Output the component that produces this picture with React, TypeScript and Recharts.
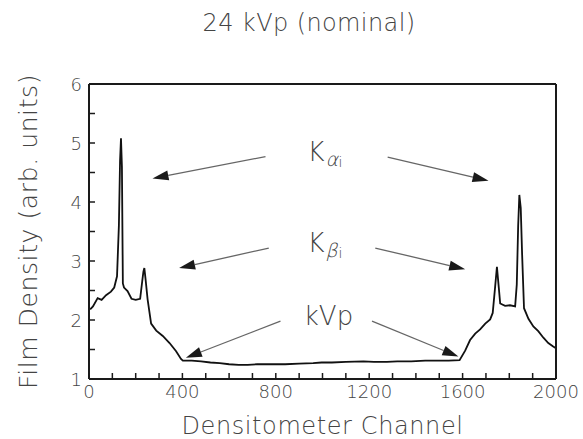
import { LineChart, Line, XAxis, YAxis, ReferenceLine, ReferenceDot } from 'recharts'

// densitometer trace
const channel = [
  5, 17, 37, 54, 73, 94, 108, 120, 128, 133, 137, 141, 145, 150, 165, 182, 200, 219, 228, 233,
  237, 242, 251, 266, 288, 316, 345, 373, 394, 402, 440, 480, 520, 560, 600, 641, 680, 720, 782,
  840, 900, 960, 996, 1040, 1100, 1175, 1220, 1276, 1320, 1380, 1440, 1500, 1540, 1587, 1611,
  1632, 1654, 1675, 1697, 1718, 1729, 1739, 1747, 1755, 1761, 1782, 1803, 1825, 1832, 1838, 1843,
  1849, 1855, 1863, 1882, 1903, 1924, 1946, 1967, 1988, 2000,
]
const density = [
  2.18, 2.23, 2.37, 2.34, 2.42, 2.48, 2.55, 2.74, 3.6, 4.7, 5.08, 4.6, 2.62, 2.55, 2.49, 2.36, 2.34,
  2.36, 2.66, 2.82, 2.88, 2.7, 2.35, 1.94, 1.82, 1.73, 1.61, 1.47, 1.34, 1.31, 1.31, 1.3, 1.28,
  1.27, 1.25, 1.24, 1.24, 1.25, 1.25, 1.25, 1.26, 1.27, 1.28, 1.28, 1.29, 1.3, 1.29, 1.29, 1.3,
  1.3, 1.31, 1.31, 1.31, 1.32, 1.48, 1.66, 1.77, 1.84, 1.94, 2.01, 2.12, 2.55, 2.9, 2.55, 2.28,
  2.24, 2.25, 2.23, 2.6, 3.6, 4.12, 3.9, 3.1, 2.2, 2.02, 1.89, 1.81, 1.7, 1.61, 1.55, 1.52,
]

const xTicks = [0, 100, 200, 300, 400, 500, 600, 700, 800, 900, 1000, 1100, 1200, 1300, 1400, 1500, 1600, 1700, 1800, 1900, 2000]
const yTicks = [1, 1.5, 2, 2.5, 3, 3.5, 4, 4.5, 5, 5.5, 6]

// annotation arrows (from text towards feature), in data units
const arrows = [
  { from: [756, 4.77], to: [272, 4.4] },
  { from: [1279, 4.76], to: [1711, 4.36] },
  { from: [770, 3.22], to: [386, 2.88] },
  { from: [1226, 3.22], to: [1611, 2.86] },
  { from: [820, 1.98], to: [415, 1.36] },
  { from: [1212, 1.98], to: [1582, 1.38] },
]
const notes = [
  { x: 936, y: 4.69, main: 'K', sub: 'α', sub2: 'i' },
  { x: 936, y: 3.16, main: 'K', sub: 'β', sub2: 'i' },
  { x: 920, y: 1.92, main: 'kVp', sub: '', sub2: '' },
]

const data = channel.map((c, i) => ({ ch: c, d: density[i] }))

const FONT = "'DejaVu Sans', sans-serif"
const INK = '#1a1a1a'
const TXT = '#444'

const arrowShape = (p: any) => {
  const { x1, y1, x2, y2 } = p
  const dx = x2 - x1
  const dy = y2 - y1
  const len = Math.hypot(dx, dy)
  const ux = dx / len
  const uy = dy / len
  const hl = 16
  const hw = 5
  const bx = x2 - ux * hl
  const by = y2 - uy * hl
  const pts = `${x2},${y2} ${bx - uy * hw},${by + ux * hw} ${bx + uy * hw},${by - ux * hw}`
  return (
    <g>
      <line x1={x1} y1={y1} x2={bx} y2={by} stroke="#666" strokeWidth={1.3} />
      <polygon points={pts} fill={INK} />
    </g>
  )
}

const noteShape = (n: (typeof notes)[number]) => (p: any) => {
  const t = { fill: TXT, fontFamily: FONT, fontWeight: 200 }
  return (
    <g>
      <text x={p.cx} y={p.cy} fontSize={26} {...t}>
        {n.main}
      </text>
      {n.sub && (
        <text x={0} y={0} fontSize={19} {...t} transform={`translate(${p.cx + 18},${p.cy + 5}) skewX(-14)`}>
          {n.sub}
        </text>
      )}
      {n.sub2 && (
        <text x={p.cx + 31} y={p.cy + 6} fontSize={14} {...t}>
          {n.sub2}
        </text>
      )}
    </g>
  )
}

const tickText = { fontSize: 18, fill: TXT, fontFamily: FONT, fontWeight: 200 }
const TICK = 6

// inward tick marks on all four sides
const BottomTick = (p: any) => {
  const v = p.payload.value
  return (
    <g>
      <line x1={p.x} x2={p.x} y1={p.y} y2={p.y - TICK} stroke={INK} strokeWidth={1.5} />
      {v % 400 === 0 && (
        <text x={p.x} y={p.y + 18.5} textAnchor="middle" {...tickText}>
          {v}
        </text>
      )}
    </g>
  )
}
const TopTick = (p: any) => (
  <line x1={p.x} x2={p.x} y1={p.y} y2={p.y + TICK} stroke={INK} strokeWidth={1.5} />
)
const LeftTick = (p: any) => {
  const v = p.payload.value
  return (
    <g>
      <line x1={p.x} x2={p.x + TICK} y1={p.y} y2={p.y} stroke={INK} strokeWidth={1.5} />
      {Number.isInteger(v) && (
        <text x={p.x - 7} y={p.y + 7} textAnchor="end" {...tickText}>
          {v}
        </text>
      )}
    </g>
  )
}
const RightTick = (p: any) => (
  <line x1={p.x} x2={p.x - TICK} y1={p.y} y2={p.y} stroke={INK} strokeWidth={1.5} />
)

const axisLine = { stroke: INK, strokeWidth: 2 }

export default function App() {
  return (
    <div style={{ position: 'absolute', left: 0, top: 0, width: 583, height: 439, background: '#fff' }}>
      <div
        style={{
          position: 'absolute',
          left: 109,
          top: 9,
          width: 400,
          textAlign: 'center',
          fontFamily: FONT,
          fontWeight: 200,
          fontSize: 24,
          letterSpacing: 0.4,
          color: TXT,
          lineHeight: '28px',
        }}
      >
        24 kVp (nominal)
      </div>
      <LineChart width={583} height={439} data={data} margin={{ top: 83, right: 26, bottom: 10, left: 29 }}>
        <XAxis
          dataKey="ch"
          type="number"
          domain={[0, 2000]}
          ticks={xTicks}
          interval={0}
          tickSize={0}
          tickMargin={0}
          tickLine={false}
          height={50}
          axisLine={axisLine}
          tick={BottomTick}
          label={{ value: 'Densitometer Channel', position: 'insideBottom', offset: -5, fontSize: 24, letterSpacing: 0.6, fill: TXT, fontFamily: FONT, fontWeight: 200 }}
        />
        <XAxis
          xAxisId="top"
          orientation="top"
          type="number"
          domain={[0, 2000]}
          ticks={xTicks}
          interval={0}
          tickSize={0}
          tickMargin={0}
          tickLine={false}
          tick={TopTick}
          height={1}
          axisLine={axisLine}
        />
        <YAxis
          type="number"
          domain={[1, 6]}
          ticks={yTicks}
          interval={0}
          tickSize={0}
          tickMargin={0}
          tickLine={false}
          width={60}
          axisLine={axisLine}
          tick={LeftTick}
          label={{ value: 'Film Density (arb. units)', angle: -90, position: 'insideLeft', offset: -1, textAnchor: 'middle', fontSize: 25, letterSpacing: 0.6, fill: TXT, fontFamily: FONT, fontWeight: 200 }}
        />
        <YAxis
          yAxisId="right"
          orientation="right"
          type="number"
          domain={[1, 6]}
          ticks={yTicks}
          interval={0}
          tickSize={0}
          tickMargin={0}
          tickLine={false}
          tick={RightTick}
          width={1}
          axisLine={axisLine}
        />
        <Line
          dataKey="d"
          type="linear"
          stroke="#111"
          strokeWidth={1.8}
          dot={false}
          isAnimationActive={false}
        />
        {arrows.map((a, i) => (
          <ReferenceLine
            key={'a' + i}
            segment={[
              { x: a.from[0], y: a.from[1] },
              { x: a.to[0], y: a.to[1] },
            ]}
            shape={arrowShape}
          />
        ))}
        {notes.map((n, i) => (
          <ReferenceDot key={'n' + i} x={n.x} y={n.y} r={0} shape={noteShape(n)} />
        ))}
      </LineChart>
    </div>
  )
}
